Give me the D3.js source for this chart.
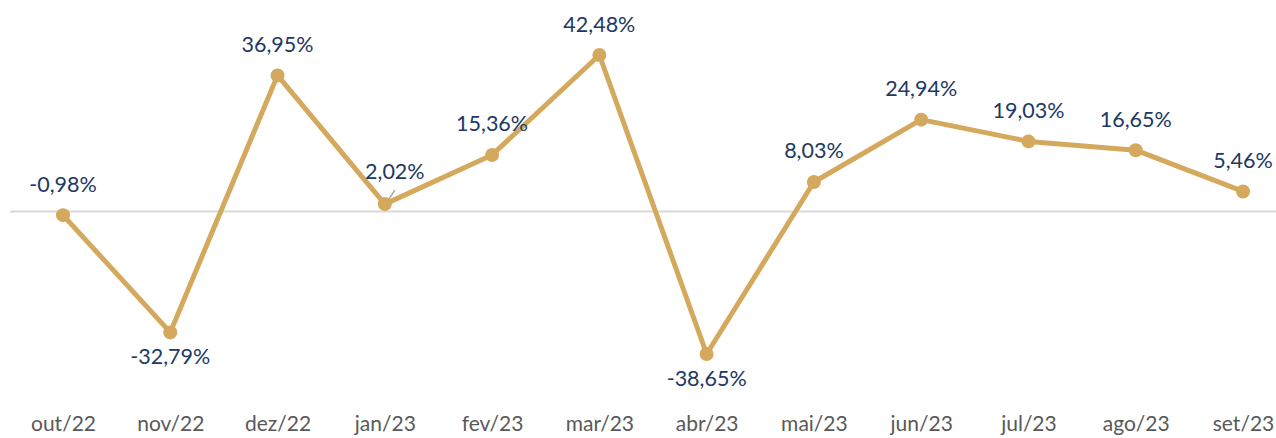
<!DOCTYPE html>
<html>
<head>
<meta charset="utf-8">
<script src="https://cdn.jsdelivr.net/npm/d3@7"></script>
<style>
  body { margin: 0; background: #fff; }
  text { font-family: Lato, "Open Sans", sans-serif; }
</style>
</head>
<body>
<div id="container"></div>
<script>
// dados
const months = ["out/22", "nov/22", "dez/22", "jan/23", "fev/23", "mar/23",
  "abr/23", "mai/23", "jun/23", "jul/23", "ago/23", "set/23"];
const values = [-0.98, -32.79, 36.95, 2.02, 15.36, 42.48, -38.65, 8.03, 24.94, 19.03, 16.65, 5.46];

// layout
const svgWidth = 1276;
const svgHeight = 438;
const lineColor = "#d4a95e";
const labelColor = "#203864";

const svg = d3.select("#container")
  .append("svg")
  .attr("width", svgWidth)
  .attr("height", svgHeight);

const x = d3.scalePoint().domain(months).range([63, 1243]);
const y = d3.scaleLinear().domain([-38.65, 42.48]).range([354, 55]);

const fmt = v => d3.format(".2f")(v).replace("\u2212", "-").replace(".", ",") + "%";

// linha do zero
svg.append("line")
  .attr("x1", 10).attr("x2", svgWidth)
  .attr("y1", y(0)).attr("y2", y(0))
  .attr("stroke", "#d9d9d9")
  .attr("stroke-width", 2);

// eixo x
const xAxis = svg.append("g")
  .attr("transform", "translate(0,424)")
  .call(d3.axisBottom(x).tickSize(0).tickPadding(0));
xAxis.select(".domain").remove();
xAxis.selectAll("text")
  .attr("dy", "0.35em")
  .attr("fill", "#595959")
  .style("font-size", "21px");

const pts = months.map((m, i) => ({ m: m, v: values[i] }));

// linha
svg.append("path")
  .datum(pts)
  .attr("fill", "none")
  .attr("stroke", lineColor)
  .attr("stroke-width", 5)
  .attr("stroke-linejoin", "round")
  .attr("d", d3.line().x(d => x(d.m)).y(d => y(d.v)));

// linha guia do rótulo de jan/23
svg.append("line")
  .attr("x1", x("jan/23") + 2).attr("y1", y(2.02) - 2)
  .attr("x2", x("jan/23") + 10).attr("y2", y(2.02) - 14)
  .attr("stroke", "#a6a6a6")
  .attr("stroke-width", 1.5);

// marcadores
svg.selectAll("circle.pt")
  .data(pts)
  .enter()
  .append("circle")
  .attr("cx", d => x(d.m))
  .attr("cy", d => y(d.v))
  .attr("r", 7)
  .attr("fill", lineColor);

// rótulos
svg.selectAll("text.lbl")
  .data(pts)
  .enter()
  .append("text")
  .attr("class", "lbl")
  .attr("x", d => x(d.m) + (d.m === "jan/23" ? 10 : 0))
  .attr("y", d => {
    if (d.m === "jan/23") return y(d.v) - 33;
    return d.v < 0 && d.m !== "out/22" ? y(d.v) + 24 : y(d.v) - 31;
  })
  .attr("dy", "0.35em")
  .attr("text-anchor", "middle")
  .attr("fill", labelColor)
  .style("font-size", "21.5px")
  .text(d => fmt(d.v));
</script>
</body>
</html>
